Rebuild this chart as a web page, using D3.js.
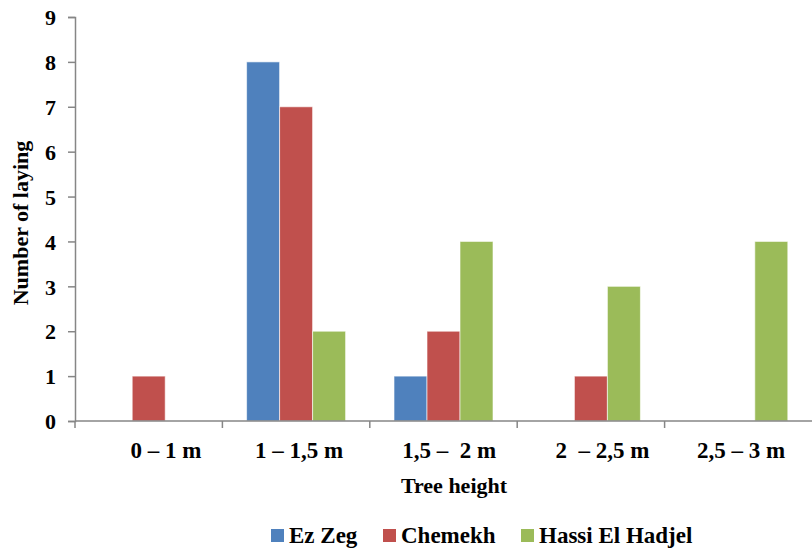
<!DOCTYPE html>
<html><head><meta charset="utf-8">
<script src="https://cdn.jsdelivr.net/npm/d3@7/dist/d3.min.js"></script>
<style>body{margin:0;background:#fff}svg{display:block}</style>
</head><body>
<svg id="c" width="812" height="550"></svg>
<script>
const categories = ["      0 – 1 m", " 1 – 1,5 m", "  1,5 –  2 m", "    2  – 2,5 m", " 2,5 – 3 m"];
const seriesNames = ["Ez Zeg", "Chemekh", "Hassi El Hadjel"];
const ezZeg = [0, 8, 1, 0, 0];
const chemekh = [1, 7, 2, 1, 0];
const hassiElHadjel = [0, 2, 4, 3, 4];
const yTicks = [0,1,2,3,4,5,6,7,8,9];
const colors = ["#4F81BD", "#C0504D", "#9BBB59"];
const series = [ezZeg, chemekh, hassiElHadjel];
const FONT = "'Liberation Serif', 'Times New Roman', 'DejaVu Serif', serif";

const svg = d3.select("#c");
const x0 = 75, x1 = 812, yTop = 17, yBot = 421;
const x = d3.scaleBand().domain(d3.range(categories.length)).range([x0, x1]);
const y = d3.scaleLinear().domain([0, 9]).range([yBot, yTop]);
const barW = 33;
const xs = d3.scaleBand().domain(d3.range(3)).range([-1.5*barW, 1.5*barW]);

// bars
series.forEach((vals, si) => {
  const data = vals.map((v, i) => ({v, i})).filter(d => d.v > 0);
  svg.append("g").selectAll("rect").data(data).join("rect")
    .attr("x", d => x(d.i) + x.bandwidth()/2 + xs(si))
    .attr("y", d => y(d.v))
    .attr("width", xs.bandwidth())
    .attr("height", d => yBot - y(d.v))
    .attr("fill", colors[si])
    .attr("stroke", "rgba(255,255,255,0.6)")
    .attr("stroke-width", 1);
});

// y axis
const yAxis = d3.axisLeft(y).tickValues(yTicks).tickSize(7).tickPadding(12).tickFormat(d3.format("d"));
const gy = svg.append("g").attr("transform", `translate(${x0},0)`).call(yAxis);
gy.attr("font-family", null).attr("font-size", null);
gy.select(".domain").attr("stroke", "#868686").attr("stroke-width", 1.5);
gy.selectAll(".tick line").attr("stroke", "#868686").attr("stroke-width", 1.5);
gy.selectAll(".tick text").style("font-family", FONT).style("font-weight", "bold")
  .style("font-size", "22px").attr("fill", "#000").attr("dy", "0.35em");

// x axis: line + tick marks at category boundaries
const gx = svg.append("g");
gx.append("line").attr("x1", x0).attr("x2", x1).attr("y1", yBot).attr("y2", yBot)
  .attr("stroke", "#868686").attr("stroke-width", 1.5);
gx.selectAll("line.t").data(d3.range(categories.length)).join("line").attr("class","t")
  .attr("x1", i => x(i)).attr("x2", i => x(i)).attr("y1", yBot).attr("y2", yBot + 7)
  .attr("stroke", "#868686").attr("stroke-width", 1.5);
gx.selectAll("text").data(categories).join("text")
  .attr("x", (d, i) => x(i) + x.bandwidth()/2)
  .attr("y", 458)
  .attr("text-anchor", "middle")
  .style("font-family", FONT).style("font-weight", "bold")
  .style("font-size", "23px")
  .style("white-space", "pre")
  .text(d => d);

// axis titles
svg.append("text").attr("x", 454).attr("y", 493).attr("text-anchor", "middle")
  .style("font-family", FONT).style("font-weight", "bold")
  .style("font-size", "22px").text("Tree height");
svg.append("text").attr("transform", "translate(28,223) rotate(-90)").attr("text-anchor", "middle")
  .style("font-family", FONT).style("font-weight", "bold")
  .style("font-size", "22px").text("Number of laying");

// legend
const legX = [271, 383, 521];
const lg = svg.append("g");
seriesNames.forEach((n, i) => {
  lg.append("rect").attr("x", legX[i]).attr("y", 529).attr("width", 13).attr("height", 13).attr("fill", colors[i]);
  lg.append("text").attr("x", legX[i] + 18).attr("y", 543)
    .style("font-family", FONT).style("font-weight", "bold")
    .style("font-size", "23px").text(n);
});
</script>
</body></html>
